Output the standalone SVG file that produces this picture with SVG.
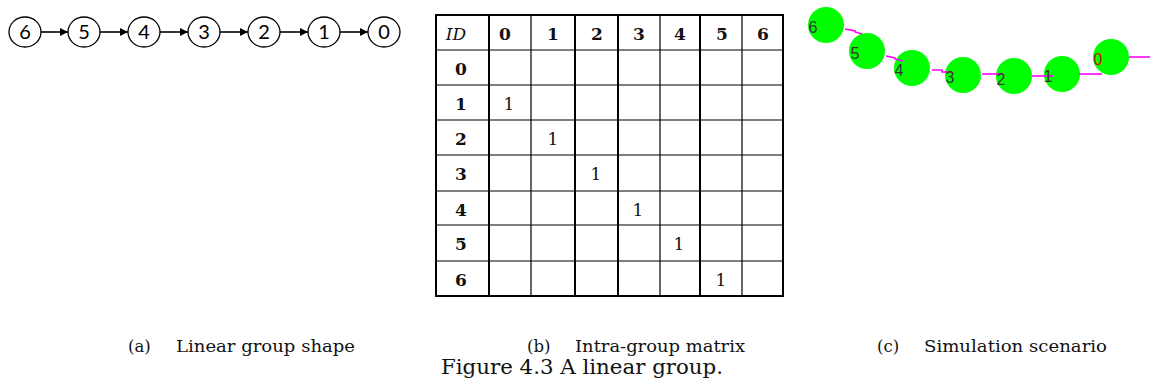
<svg xmlns="http://www.w3.org/2000/svg" width="1150" height="390" viewBox="0 0 1150 390">
  <defs>
    <style>
      .nc{fill:#fff;stroke:#000;stroke-width:1.3}
      .nl{font-family:Lato,"Open Sans",sans-serif;font-size:20px;fill:#000;text-anchor:middle}
      .ar{stroke:#000;stroke-width:1.6;fill:none;marker-end:url(#ah)}
      .tv{stroke:#000;stroke-width:2}
      .tvt{stroke:#000;stroke-width:1.2}
      .th{stroke:#000;stroke-width:1.2}
      .thb{stroke:#000;stroke-width:2}
      .hd{font-family:"DejaVu Serif",serif;font-size:17px;font-weight:bold;text-anchor:middle;fill:#111}
      .id{font-family:"DejaVu Serif",serif;font-size:17px;font-style:italic;text-anchor:middle;fill:#111}
      .one{font-family:"DejaVu Serif",serif;font-size:17px;text-anchor:middle;fill:#111}
      .sc{fill:#00ff00}
      .sl{stroke:#ff00ff;stroke-width:1.6;fill:none}
      .st{font-family:"Liberation Sans",Arial,sans-serif;font-size:16px;fill:#333;text-anchor:middle}
      .cap{font-family:"DejaVu Serif",serif;font-size:16.5px;fill:#111}
      .fig{font-family:"DejaVu Serif",serif;font-size:20.5px;fill:#111}
    </style>
    <marker id="ah" viewBox="0 0 10 10" refX="10" refY="5" markerWidth="5.5" markerHeight="5" orient="auto" markerUnits="strokeWidth">
      <path d="M0,0 L10,5 L0,10 z" fill="#000"/>
    </marker>
  </defs>

  <!-- (a) Linear group shape -->
  <g id="connectors-a">
    <line class="ar" x1="41" y1="32" x2="68" y2="32"/>
    <line class="ar" x1="100" y1="32" x2="128" y2="32"/>
    <line class="ar" x1="160" y1="32" x2="188" y2="32"/>
    <line class="ar" x1="220" y1="32" x2="248" y2="32"/>
    <line class="ar" x1="280" y1="32" x2="308" y2="32"/>
    <line class="ar" x1="340" y1="32" x2="368" y2="32"/>
  </g>
  <g id="node-a6"><ellipse class="nc" cx="25" cy="32" rx="16" ry="15"/><text class="nl" x="25" y="39">6</text></g>
  <g id="node-a5"><ellipse class="nc" cx="84" cy="32" rx="16" ry="15"/><text class="nl" x="84" y="39">5</text></g>
  <g id="node-a4"><ellipse class="nc" cx="144" cy="32" rx="16" ry="15"/><text class="nl" x="144" y="39">4</text></g>
  <g id="node-a3"><ellipse class="nc" cx="204" cy="32" rx="16" ry="15"/><text class="nl" x="204" y="39">3</text></g>
  <g id="node-a2"><ellipse class="nc" cx="264" cy="32" rx="16" ry="15"/><text class="nl" x="264" y="39">2</text></g>
  <g id="node-a1"><ellipse class="nc" cx="324" cy="32" rx="16" ry="15"/><text class="nl" x="324" y="39">1</text></g>
  <g id="node-a0"><ellipse class="nc" cx="384" cy="32" rx="16" ry="15"/><text class="nl" x="384" y="39">0</text></g>

  <!-- (b) Intra-group matrix -->
  <g id="matrix">
    <rect x="436" y="15" width="347" height="281" fill="#fff"/>
    <line class="thb" x1="436" y1="15" x2="783" y2="15"/>
    <line class="th" x1="436" y1="50" x2="783" y2="50"/>
    <line class="th" x1="436" y1="85" x2="783" y2="85"/>
    <line class="th" x1="436" y1="120" x2="783" y2="120"/>
    <line class="th" x1="436" y1="155" x2="783" y2="155"/>
    <line class="th" x1="436" y1="191" x2="783" y2="191"/>
    <line class="th" x1="436" y1="225" x2="783" y2="225"/>
    <line class="th" x1="436" y1="261" x2="783" y2="261"/>
    <line class="thb" x1="436" y1="296" x2="783" y2="296"/>
    <line class="tv" x1="436" y1="14" x2="436" y2="297"/>
    <line class="tv" x1="489" y1="14" x2="489" y2="297"/>
    <line class="tvt" x1="531" y1="14" x2="531" y2="297"/>
    <line class="tv" x1="575" y1="14" x2="575" y2="297"/>
    <line class="tv" x1="618" y1="14" x2="618" y2="297"/>
    <line class="tvt" x1="660" y1="14" x2="660" y2="297"/>
    <line class="tv" x1="700" y1="14" x2="700" y2="297"/>
    <line class="tvt" x1="742" y1="14" x2="742" y2="297"/>
    <line class="tv" x1="783" y1="14" x2="783" y2="297"/>
    <text class="id" x="456" y="40">ID</text>
    <text class="hd" x="505" y="40">0</text>
    <text class="hd" x="553" y="40">1</text>
    <text class="hd" x="597" y="40">2</text>
    <text class="hd" x="639" y="40">3</text>
    <text class="hd" x="680" y="40">4</text>
    <text class="hd" x="722" y="40">5</text>
    <text class="hd" x="763" y="40">6</text>
    <text class="hd" x="461" y="75">0</text>
    <text class="hd" x="461" y="110">1</text>
    <text class="hd" x="461" y="145">2</text>
    <text class="hd" x="461" y="180">3</text>
    <text class="hd" x="461" y="216">4</text>
    <text class="hd" x="461" y="250">5</text>
    <text class="hd" x="461" y="286">6</text>
    <text class="one" x="509" y="110">1</text>
    <text class="one" x="553" y="145">1</text>
    <text class="one" x="596" y="180">1</text>
    <text class="one" x="638" y="216">1</text>
    <text class="one" x="679" y="250">1</text>
    <text class="one" x="721" y="286">1</text>
  </g>

  <!-- (c) Simulation scenario -->
  <g id="sim-circles">
    <circle class="sc" cx="826" cy="25" r="18"/>
    <circle class="sc" cx="867" cy="51" r="18"/>
    <circle class="sc" cx="912" cy="68" r="18"/>
    <circle class="sc" cx="963" cy="75" r="18"/>
    <circle class="sc" cx="1014" cy="76" r="18"/>
    <circle class="sc" cx="1062" cy="74" r="18"/>
    <circle class="sc" cx="1111" cy="57" r="18"/>
  </g>
  <g id="connectors-c">
    <polyline class="sl" points="845,29 855,31 855,32 862,34"/>
    <polyline class="sl" points="886,56 895,58 895,59 903,61"/>
    <polyline class="sl" points="932,70 942,70 942,72 952,72"/>
    <line class="sl" x1="982" y1="74" x2="1003" y2="74"/>
    <line class="sl" x1="1032" y1="76" x2="1053" y2="76"/>
    <line class="sl" x1="1079" y1="74" x2="1102" y2="74"/>
    <line class="sl" x1="1129" y1="57" x2="1150" y2="57"/>
  </g>
  <g id="node-c6"><text class="st" x="813" y="33">6</text></g>
  <g id="node-c5"><text class="st" x="855" y="59">5</text></g>
  <g id="node-c4"><text class="st" x="899" y="76">4</text></g>
  <g id="node-c3"><text class="st" x="950" y="83">3</text></g>
  <g id="node-c2"><text class="st" x="1001" y="85">2</text></g>
  <g id="node-c1"><text class="st" x="1048" y="82">1</text></g>
  <g id="node-c0"><text class="st" x="1098" y="65" fill="#e00000" style="fill:#e00000">0</text></g>

  <!-- captions -->
  <g id="captions">
    <text class="cap" x="128" y="352">(a)</text>
    <text class="cap" x="176" y="352" textLength="179" lengthAdjust="spacingAndGlyphs">Linear group shape</text>
    <text class="cap" x="527" y="352">(b)</text>
    <text class="cap" x="575" y="352" textLength="170" lengthAdjust="spacingAndGlyphs">Intra-group matrix</text>
    <text class="cap" x="877" y="352">(c)</text>
    <text class="cap" x="924" y="352" textLength="183" lengthAdjust="spacingAndGlyphs">Simulation scenario</text>
    <text class="fig" x="441" y="374" textLength="282" lengthAdjust="spacingAndGlyphs">Figure 4.3 A linear group.</text>
  </g>
</svg>
